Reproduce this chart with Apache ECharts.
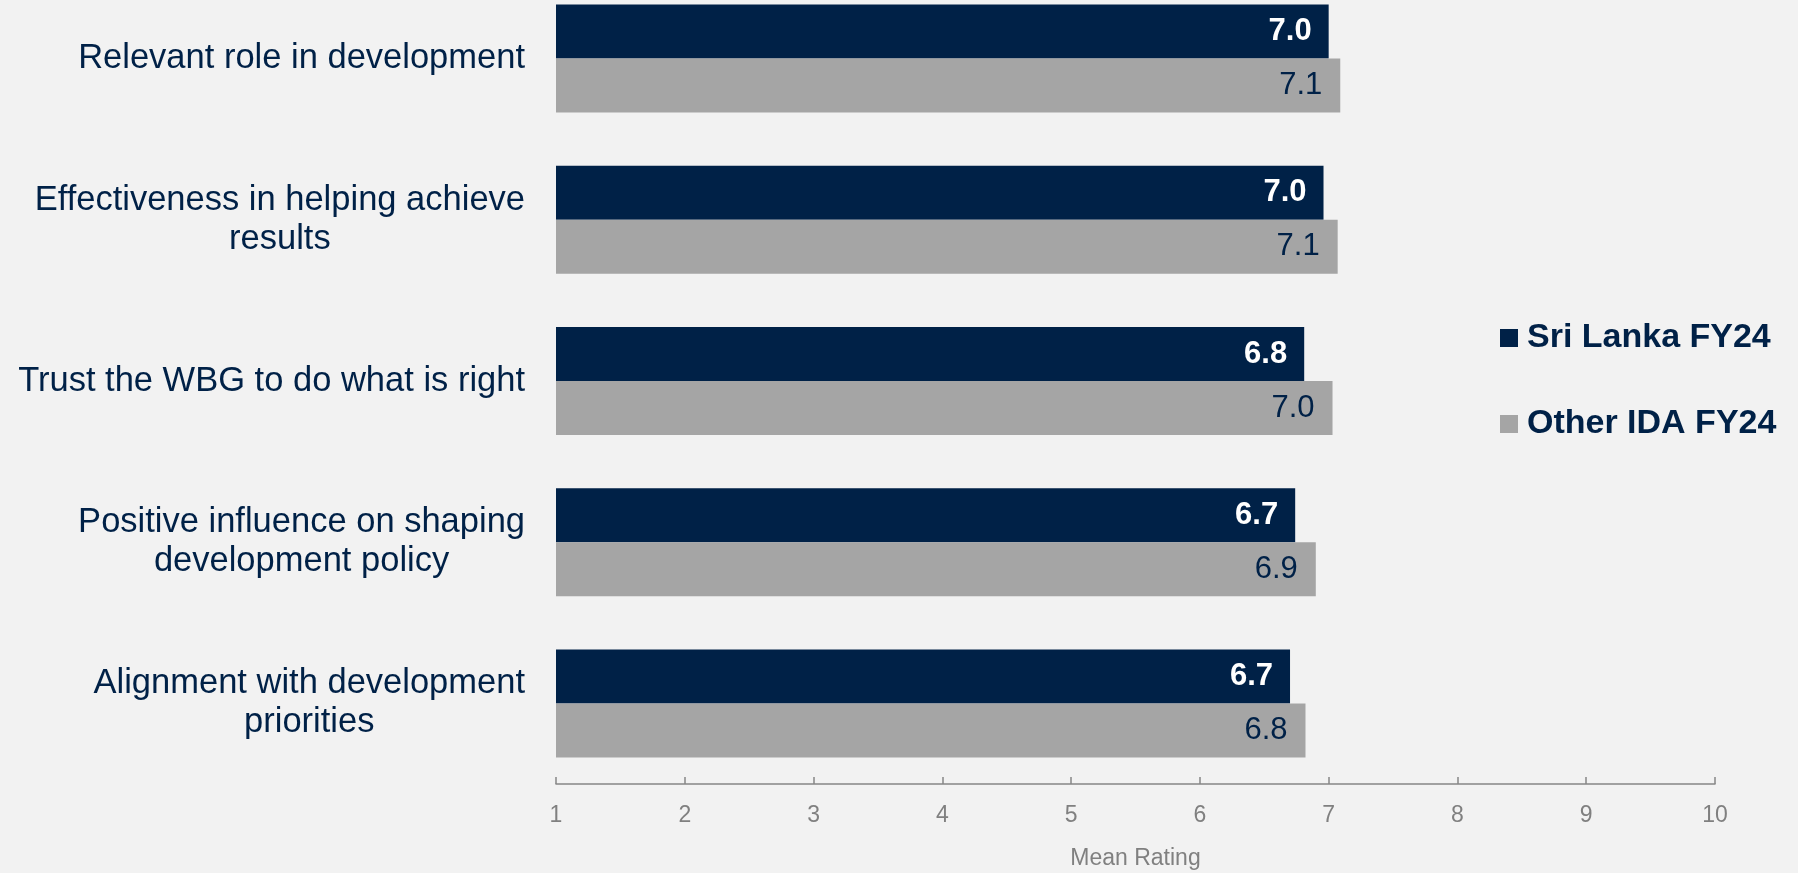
<!DOCTYPE html>
<html>
<head>
<meta charset="utf-8">
<script src="https://cdn.jsdelivr.net/npm/echarts@6/dist/echarts.min.js"></script>
<style>
  html, body { margin: 0; padding: 0; background: #f2f2f2; }
  #chart { width: 1798px; height: 873px; }
</style>
</head>
<body>
<div id="chart"></div>
<script>
// categories, top to bottom
const categories = [
  "Relevant role in development",
  "Effectiveness in helping achieve\nresults",
  "Trust the WBG to do what is right",
  "Positive influence on shaping\ndevelopment policy",
  "Alignment with development\npriorities"
];
const seriesNames = ["Sri Lanka FY24", "Other IDA FY24"];
const sriLanka = [7.0, 6.96, 6.81, 6.74, 6.70];
const otherIda = [7.09, 7.07, 7.03, 6.90, 6.82];
const xTicks = [1, 2, 3, 4, 5, 6, 7, 8, 9, 10];

const navy = "#002147";
const grey = "#a5a5a5";
const font = "'Liberation Sans', Arial, sans-serif";

const chart = echarts.init(document.getElementById("chart"));
chart.setOption({
  backgroundColor: "#f2f2f2",
  animation: false,
  textStyle: { fontFamily: font },
  grid: { left: 556, right: 83, top: -22, bottom: 89, outerBoundsMode: "none" },
  legend: {
    orient: "vertical",
    left: 1500,
    top: 318,
    padding: 0,
    icon: "rect",
    itemWidth: 18,
    itemHeight: 18,
    itemGap: 46,
    data: seriesNames,
    textStyle: {
      fontSize: 34, fontWeight: "bold", color: navy, fontFamily: font,
      lineHeight: 40, padding: [0, 0, 0, 4]
    }
  },
  xAxis: {
    type: "value",
    min: xTicks[0],
    max: xTicks[xTicks.length - 1],
    interval: 1,
    name: "Mean Rating",
    nameLocation: "middle",
    nameGap: 63,
    nameTextStyle: { fontSize: 23, color: "#808080", fontFamily: font },
    axisLine: { show: true, lineStyle: { color: "#868686", width: 1.5 } },
    axisTick: { show: true, inside: true, length: 7, lineStyle: { color: "#868686", width: 1.5 } },
    axisLabel: { fontSize: 23, color: "#808080", margin: 20, fontFamily: font },
    splitLine: { show: false }
  },
  yAxis: {
    type: "category",
    inverse: true,
    data: categories,
    axisLine: { show: false },
    axisTick: { show: false },
    axisLabel: {
      margin: 31,
      align: "right",
      formatter: (v) => v.split("\n").map(l => "{c|" + l + "}").join("\n"),
      rich: {
        c: { align: "center", fontSize: 34.5, lineHeight: 39, color: navy, fontFamily: font }
      }
    }
  },
  series: [
    {
      name: seriesNames[0],
      type: "bar",
      data: sriLanka,
      barGap: "0%",
      barCategoryGap: "33%",
      itemStyle: { color: navy },
      label: {
        show: true,
        position: "insideRight",
        distance: 17,
        formatter: (p) => p.value.toFixed(1),
        color: "#ffffff",
        fontWeight: "bold",
        fontSize: 31,
        fontFamily: font
      }
    },
    {
      name: seriesNames[1],
      type: "bar",
      data: otherIda,
      itemStyle: { color: grey },
      label: {
        show: true,
        position: "insideRight",
        distance: 18,
        formatter: (p) => p.value.toFixed(1),
        color: navy,
        fontSize: 31,
        fontFamily: font
      }
    }
  ]
});
</script>
</body>
</html>
